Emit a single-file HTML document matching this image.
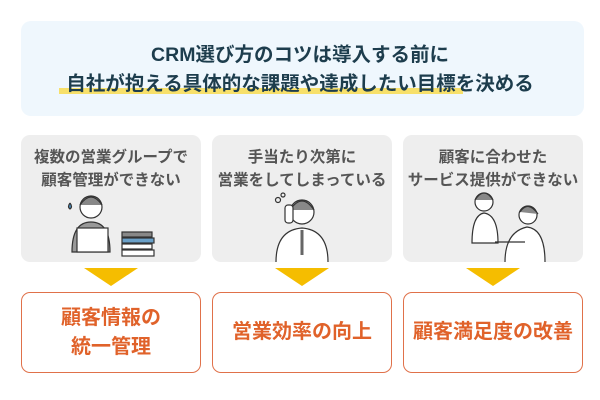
<!DOCTYPE html>
<html><head><meta charset="utf-8"><style>
*{margin:0;padding:0;box-sizing:border-box}
body{width:600px;height:400px;background:#fff;position:relative;font-family:"Liberation Sans","Noto Sans CJK JP",sans-serif;overflow:hidden}
.top{position:absolute;left:21px;top:21px;width:563px;height:95px;background:#eff7fd;border-radius:10px}
.t{position:absolute;left:0;width:600px;text-align:center;font-weight:bold;font-size:19.5px;color:#1d3d4d}
.hl{position:absolute;left:59px;top:88px;width:404px;height:6px;background:#f7e06a}
.g{position:absolute;top:135px;width:180px;height:127px;background:#eeeeee;border-radius:9px}
.gt{position:absolute;top:146px;width:180px;text-align:center;font-size:15.5px;line-height:23px;color:#555;font-weight:bold;white-space:nowrap}
.tri{position:absolute;top:268px;width:0;height:0;border-left:27px solid transparent;border-right:27px solid transparent;border-top:18px solid #f5bd00}
.o{position:absolute;top:292px;width:180px;height:81px;border:1.5px solid #e0714a;border-radius:9px;display:flex;align-items:center;justify-content:center;text-align:center;color:#e0622a;font-weight:bold;font-size:20px;line-height:29px}
svg{position:absolute}
</style></head><body>
<div class="top"></div>
<div class="hl"></div>
<div class="t" style="top:38px">CRM選び方のコツは導入する前に</div>
<div class="t" style="top:67px">自社が抱える具体的な課題や達成したい目標を決める</div>

<div class="g" style="left:21px"></div>
<div class="g" style="left:212px"></div>
<div class="g" style="left:403px"></div>
<div class="gt" style="left:21px">複数の営業グループで<br>顧客管理ができない</div>
<div class="gt" style="left:212px">手当たり次第に<br>営業をしてしまっている</div>
<div class="gt" style="left:403px">顧客に合わせた<br>サービス提供ができない</div>

<svg width="600" height="400" style="left:0;top:0" fill="none" stroke="#333" stroke-width="1.2">
<circle cx="91" cy="207" r="11" fill="#fff"/><path d="M80 205 q11-16 22 0" fill="#888"/>
<path d="M72 252 q0-30 19-30 q19 0 19 30z" fill="#999"/>
<rect x="77" y="228" width="31" height="24" fill="#fff"/>
<rect x="122" y="232" width="30" height="5" fill="#888"/><rect x="122" y="238" width="32" height="5" fill="#6aa0c8"/><rect x="122" y="244" width="30" height="5" fill="#fff"/><rect x="122" y="250" width="32" height="6" fill="#fff"/>
<path d="M70 203 q-3 4 0 6 q3-2 0-6" fill="#4a90c2"/>
<circle cx="302" cy="212" r="12" fill="#fff"/><path d="M290 210 q12-18 24 0" fill="#888"/>
<path d="M276 262 q0-32 26-34 q26 2 26 34" fill="#fff"/>
<path d="M302 230 l0 25" stroke-width="3" stroke="#666"/>
<rect x="285" y="205" width="8" height="18" rx="3" fill="#fff"/>
<circle cx="278" cy="200" r="2.5"/><circle cx="283" cy="195" r="2"/>
<circle cx="484" cy="202" r="9" fill="#fff"/><path d="M475 200 q9-14 18 0" fill="#888"/>
<path d="M472 243 q0-28 12-30 q14 2 14 30z" fill="#fff"/>
<circle cx="528" cy="215" r="9" fill="#fff"/><path d="M520 212 q8-12 18 2" fill="#888"/>
<path d="M505 262 q0-30 22-35 q18 2 18 35" fill="#fff"/>
<path d="M495 242 l30 0" />
</svg>

<div class="tri" style="left:84px"></div>
<div class="tri" style="left:275px"></div>
<div class="tri" style="left:466px"></div>

<div class="o" style="left:21px">顧客情報の<br>統一管理</div>
<div class="o" style="left:212px">営業効率の向上</div>
<div class="o" style="left:403px">顧客満足度の改善</div>
</body></html>
